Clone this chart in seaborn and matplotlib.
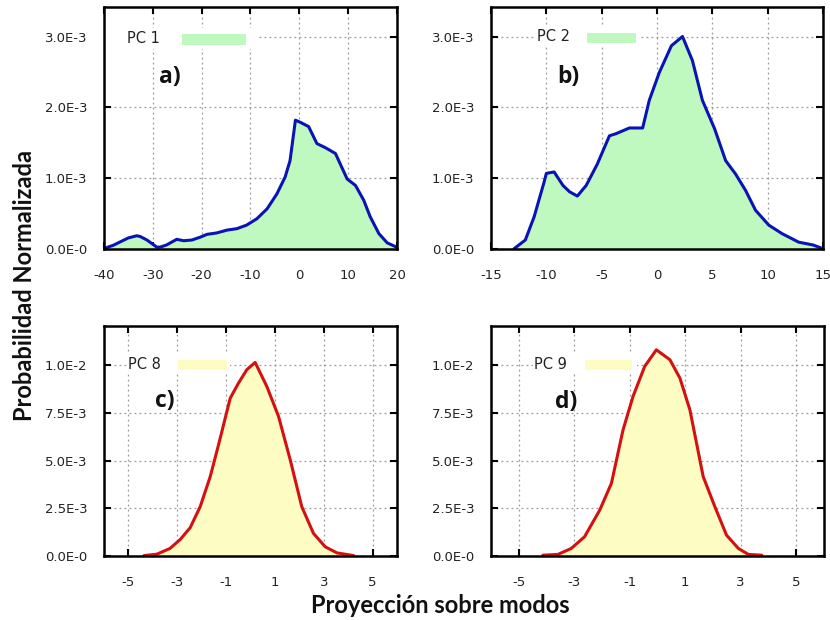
import matplotlib
matplotlib.use("Agg")
import matplotlib.pyplot as plt
from matplotlib.patches import Rectangle
from matplotlib.ticker import FuncFormatter
import seaborn as sns
import numpy as np
import pandas as pd

# PC 1
pc1_x = [-40, -38.1, -35, -33.3, -32.6, -31.2, -29.2, -28.5, -27.2, -25.1, -23.7, -22, -20.3,
         -18.9, -16.9, -14.8, -12.8, -10.8, -8.7, -6.6, -4.6, -2.9, -1.9, -0.8, 0.2, 1.9, 3.6,
         5.4, 7.4, 9.8, 11.5, 13.2, 14.5, 16.3, 18, 19.9]
pc1_y = [0.01, 0.056, 0.16, 0.19, 0.18, 0.13, 0.03, 0.03, 0.06, 0.14, 0.12, 0.13, 0.17,
         0.21, 0.23, 0.27, 0.29, 0.34, 0.43, 0.57, 0.78, 1.02, 1.25, 1.82, 1.79, 1.73, 1.49,
         1.43, 1.35, 0.99, 0.90, 0.69, 0.46, 0.22, 0.09, 0.03]

# PC 2
pc2_x = [-12.9, -11.9, -11.1, -10.2, -10.0, -9.3, -8.5, -7.9, -7.2, -6.4, -5.4, -4.3, -3.7,
         -2.5, -1.3, -0.7, 0.2, 1.3, 2.3, 3.2, 4.1, 5.2, 6.2, 7.1, 8.0, 8.9, 10.1, 11.3,
         12.8, 14.1, 14.8]
pc2_y = [0.01, 0.13, 0.46, 0.95, 1.07, 1.09, 0.90, 0.81, 0.75, 0.90, 1.2, 1.6, 1.63,
         1.71, 1.71, 2.10, 2.49, 2.87, 3.0, 2.66, 2.10, 1.70, 1.25, 1.06, 0.83, 0.55, 0.34,
         0.22, 0.10, 0.06, 0.02]

# PC 8
pc8_x = [-4.36, -3.84, -3.3, -2.88, -2.47, -2.06, -1.65, -1.31, -0.83, -0.49, -0.15, 0.19,
         0.67, 1.15, 1.63, 2.1, 2.58, 3.06, 3.54, 4.22]
pc8_y = [0.03, 0.1, 0.4, 0.87, 1.49, 2.59, 4.16, 5.82, 8.27, 9.06, 9.76, 10.14,
         8.88, 7.31, 5.03, 2.59, 1.19, 0.49, 0.17, 0.03]

# PC 9
pc9_x = [-4.13, -3.59, -3.11, -2.63, -2.08, -1.66, -1.24, -0.88, -0.46, -0.04, 0.45, 0.81,
         1.17, 1.65, 2.07, 2.49, 2.92, 3.28, 3.76]
pc9_y = [0.05, 0.09, 0.40, 1.01, 2.41, 3.81, 6.61, 8.36, 9.93, 10.80, 10.28, 9.32,
         7.66, 4.16, 2.59, 1.10, 0.40, 0.09, 0.05]

green_fill = "#c0f9c0"
blue_line = "#0a14b4"
yellow_fill = "#fdfcc3"
red_line = "#d41010"


def sci_fmt(v, pos):
    if abs(v) < 1e-12:
        return "0.0E-0"
    e = int(np.floor(np.log10(abs(v)) + 1e-9))
    m = v / 10 ** e
    return "%.1fE%d" % (m, e)


sns.set_theme(style="ticks")
plt.rcParams['font.family'] = ['DejaVu Sans']
plt.rcParams['axes.unicode_minus'] = False

fig = plt.figure(figsize=(8.3, 6.2), dpi=100)

# key: text x, text y, patch x0, x1, patch y0, height, white box x0, x1, y0, y1
panels = [
    dict(x=pc1_x, y=pc1_y, name="PC 1", tag="a)", pos=[0.1253, 0.598, 0.353, 0.390],
         xlim=(-40, 20), xticks=[-40, -30, -20, -10, 0, 10, 20], ylim=(0, 3.41e-3),
         yticks=[0, 1e-3, 2e-3, 3e-3], fill=green_fill, line=blue_line,
         key=(0.0785, 0.872, 0.266, 0.485, 0.843, 0.049, 0.0, 0.53, 0.83, 0.915),
         tagpos=(0.225, 0.711)),
    dict(x=pc2_x, y=pc2_y, name="PC 2", tag="b)", pos=[0.5916, 0.598, 0.400, 0.390],
         xlim=(-15, 15), xticks=[-15, -10, -5, 0, 5, 10, 15], ylim=(0, 3.41e-3),
         yticks=[0, 1e-3, 2e-3, 3e-3], fill=green_fill, line=blue_line,
         key=(0.1386, 0.88, 0.289, 0.437, 0.855, 0.041, 0.135, 0.45, 0.835, 0.925),
         tagpos=(0.232, 0.711)),
    dict(x=pc8_x, y=pc8_y, name="PC 8", tag="c)", pos=[0.1253, 0.103, 0.353, 0.371],
         xlim=(-6, 6), xticks=[-5, -3, -1, 1, 3, 5], ylim=(0, 1.204e-2),
         yticks=[0, 2.5e-3, 5e-3, 7.5e-3, 1e-2], fill=yellow_fill, line=red_line,
         key=(0.082, 0.835, 0.253, 0.42, 0.809, 0.043, 0.078, 0.43, 0.79, 0.88),
         tagpos=(0.208, 0.674)),
    dict(x=pc9_x, y=pc9_y, name="PC 9", tag="d)", pos=[0.5916, 0.103, 0.401, 0.371],
         xlim=(-6, 6), xticks=[-5, -3, -1, 1, 3, 5], ylim=(0, 1.204e-2),
         yticks=[0, 2.5e-3, 5e-3, 7.5e-3, 1e-2], fill=yellow_fill, line=red_line,
         key=(0.129, 0.835, 0.282, 0.423, 0.809, 0.043, 0.125, 0.44, 0.79, 0.88),
         tagpos=(0.225, 0.67)),
]

for p in panels:
    ax = fig.add_axes(p["pos"])
    df = pd.DataFrame({"x": p["x"], "y": np.array(p["y"]) * 1e-3})
    ax.fill_between(df["x"], 0, df["y"], color=p["fill"], lw=0, zorder=2)
    sns.lineplot(data=df, x="x", y="y", ax=ax, color=p["line"], lw=2.2, sort=False, zorder=3)
    ax.set_xlim(*p["xlim"])
    ax.set_ylim(*p["ylim"])
    ax.set_xticks(p["xticks"])
    ax.set_yticks(p["yticks"])
    ax.yaxis.set_major_formatter(FuncFormatter(sci_fmt))
    ax.set_xlabel("")
    ax.set_ylabel("")
    ax.grid(True, color="#9a9a9a", ls=(0, (1.5, 2.5)), lw=0.9, zorder=0)
    ax.set_axisbelow(True)
    ax.tick_params(direction="in", top=True, right=True, length=5, width=1.5,
                   labelsize=9.5, pad=12, colors="black", labelcolor="#222222")
    ax.tick_params(axis="x", pad=14)
    for s in ax.spines.values():
        s.set_linewidth(1.8)
        s.set_color("black")
        s.set_zorder(5)

    # key box like gnuplot's
    tx, ty, px0, px1, py0, ph, bx0, bx1, by0, by1 = p["key"]
    ax.add_patch(Rectangle((bx0, by0), bx1 - bx0, by1 - by0, transform=ax.transAxes,
                           facecolor="white", edgecolor="none", zorder=1))
    ax.add_patch(Rectangle((px0, py0), px1 - px0, ph, transform=ax.transAxes,
                           facecolor=p["fill"], edgecolor="none", zorder=4))
    ax.text(tx, ty, p["name"], transform=ax.transAxes, fontsize=10.5, ha="left",
            va="center", color="#222222", zorder=4)
    ax.text(p["tagpos"][0], p["tagpos"][1], p["tag"], transform=ax.transAxes,
            fontsize=16.5, fontweight="bold", ha="center", va="center", color="#111111",
            family=["Open Sans", "DejaVu Sans"], zorder=4)

fig.text(0.03, 0.54, "Probabilidad Normalizada", rotation=90, ha="center", va="center",
         fontsize=17, fontweight="bold", family=["Lato", "DejaVu Sans"], color="#111111")
fig.text(0.53, 0.024, "Proyección sobre modos", ha="center", va="center",
         fontsize=17, fontweight="bold", family=["Lato", "DejaVu Sans"], color="#111111")

fig.savefig("out.png", dpi=100)
